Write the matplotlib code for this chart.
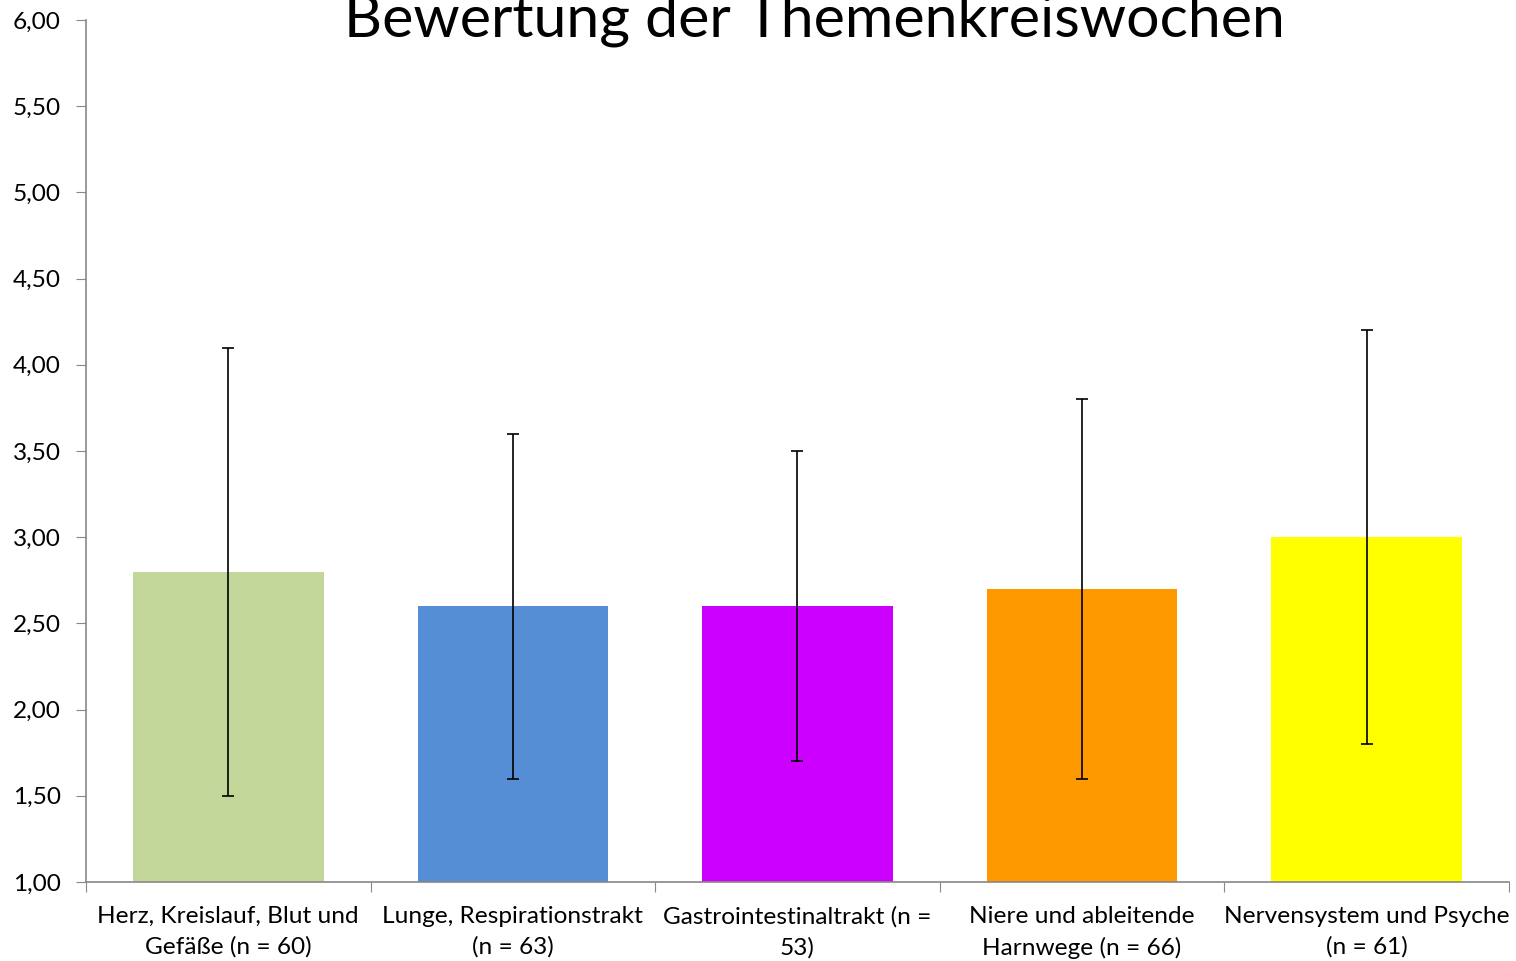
import matplotlib
matplotlib.use("Agg")
import matplotlib.pyplot as plt
from matplotlib.ticker import FuncFormatter, FixedLocator
import numpy as np

plt.rcParams['font.family'] = ['Lato', 'DejaVu Sans']

# Daten
kategorien = ["Herz, Kreislauf, Blut und\nGefäße (n = 60)",
              "Lunge, Respirationstrakt\n(n = 63)",
              "Gastrointestinaltrakt (n =\n53)",
              "Niere und ableitende\nHarnwege (n = 66)",
              "Nervensystem und Psyche\n(n = 61)"]
mittelwerte = [2.8, 2.6, 2.6, 2.7, 3.0]
std_abw = [1.3, 1.0, 0.9, 1.1, 1.2]
farben = ["#C4D79B", "#558ED5", "#CC00FF", "#FF9900", "#FFFF00"]

fig = plt.figure(figsize=(15.16, 9.61), dpi=100)
ax = fig.add_axes([0.0567, 0.0822, 0.9387, 0.897])

x = np.arange(len(kategorien))
# Balken ab 1,00 zeichnen (Achse beginnt bei 1)
ax.bar(x, np.array(mittelwerte) - 1, bottom=1, width=0.67, color=farben, zorder=2)
ax.errorbar(x, mittelwerte, yerr=std_abw, fmt="none", ecolor="black",
            elinewidth=1.2, capsize=4, capthick=1.2, zorder=3)

ax.set_xlim(-0.5, len(kategorien) - 0.5)
ax.set_ylim(1, 6)
ax.set_yticks(np.arange(1, 6.01, 0.5))
ax.yaxis.set_major_formatter(FuncFormatter(lambda v, p: f"{v:.2f}".replace(".", ",")))

# Kategorien-Ticks an den Grenzen, Beschriftung mittig
ax.xaxis.set_major_locator(FixedLocator(np.arange(-0.5, len(kategorien), 1)))
ax.set_xticklabels([])
ax.set_xticks(x, minor=True)
ax.set_xticklabels(kategorien, minor=True, fontsize=17.6, linespacing=1.55)
ax.tick_params(axis="x", which="minor", length=0, pad=17)
ax.tick_params(axis="x", which="major", length=7, color="#888888", direction="out")
ax.tick_params(axis="y", length=7, color="#888888", labelsize=17.6, pad=11)

for s in ["top", "right"]:
    ax.spines[s].set_visible(False)
for s in ["left", "bottom"]:
    ax.spines[s].set_color("#888888")
    ax.spines[s].set_linewidth(1.2)

fig.text(0.537, 0.979, "Bewertung der Themenkreiswochen", fontsize=42.5,
         ha="center", va="center")

fig.savefig("out.png", dpi=100)
